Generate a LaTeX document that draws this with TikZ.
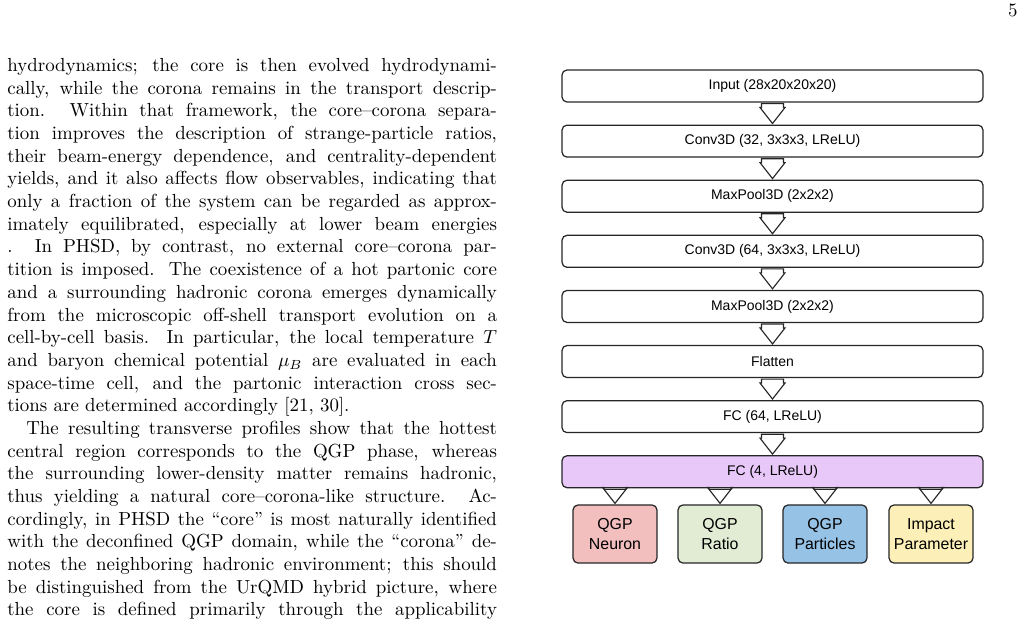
\documentclass[tikz,border=0pt]{standalone}
\usepackage{fontspec}
\newfontfamily\diagfont{Liberation Sans}
\usetikzlibrary{positioning,calc}

\definecolor{neuronfill}{HTML}{F2BEBE}
\definecolor{ratiofill}{HTML}{E2ECD5}
\definecolor{particlefill}{HTML}{96C2E6}
\definecolor{impactfill}{HTML}{FCEFB8}
\definecolor{outfill}{HTML}{E8C8F8}

\tikzset{
  layer/.style={draw=black!85, line width=0.65pt, rounded corners=2.6pt, fill=white,
    minimum width=222.7pt, minimum height=16.9pt, inner sep=0pt,
    font=\diagfont\fontsize{7.4}{8.8}\selectfont},
  target/.style={draw=black!85, line width=0.65pt, rounded corners=2.6pt,
    minimum width=44.4pt, minimum height=30.7pt, inner sep=0pt, align=center,
    font=\diagfont\fontsize{8.4}{10.4}\selectfont},
  hollow/.style={draw=black!85, line width=0.6pt, fill=white, line join=miter},
}

% hollow block arrow from the south of #1 to the north of #2
\newcommand{\flowarrow}[2]{%
  \path (#1.south -| #2.north) coordinate (fa) (#2.north) coordinate (fb);
  \draw[hollow] ($(fa)+(-11,1)$) -- ($(fa)+(11,1)$) -- ($(fb)+(11,-17)$)
    -- ($(fb)+(12.5,-17)$) -- ($(fb)+(0,-1)$) -- ($(fb)+(-12.5,-17)$)
    -- ($(fb)+(-11,-17)$) -- cycle;}

\begin{document}
\begin{tikzpicture}[x=0.529pt,y=-0.529pt]
\useasboundingbox (0,0) rectangle (1029,627);

% page number
\node (pagenum) [anchor=base east, inner sep=0pt, font=\fontsize{10}{12}\selectfont] at (1018,16) {5};

% running text
\node (bodytext) [anchor=north west, inner sep=0pt, text width=259pt, align=justify,
  font=\fontsize{10}{12}\selectfont] at (7,58) {%
hydrodynamics; the core is then evolved hydrodynami-\linebreak
cally, while the corona remains in the transport descrip-\linebreak
tion. Within that framework, the core--corona separa-\linebreak
tion improves the description of strange-particle ratios,\linebreak
their beam-energy dependence, and centrality-dependent\linebreak
yields, and it also affects flow observables, indicating that\linebreak
only a fraction of the system can be regarded as approx-\linebreak
imately equilibrated, especially at lower beam energies\linebreak
[25]. In PHSD, by contrast, no external core--corona par-\linebreak
tition is imposed. The coexistence of a hot partonic core\linebreak
and a surrounding hadronic corona emerges dynamically\linebreak
from the microscopic off-shell transport evolution on a\linebreak
cell-by-cell basis. In particular, the local temperature $T$\linebreak
and baryon chemical potential $\mu_B$ are evaluated in each\linebreak
space-time cell, and the partonic interaction cross sec-\linebreak
tions are determined accordingly [21, 30].\par
\parindent=10pt\parfillskip=0pt
The resulting transverse profiles show that the hottest\linebreak
central region corresponds to the QGP phase, whereas\linebreak
the surrounding lower-density matter remains hadronic,\linebreak
thus yielding a natural core--corona-like structure. Ac-\linebreak
cordingly, in PHSD the ``core'' is most naturally identified\linebreak
with the deconfined QGP domain, while the ``corona'' de-\linebreak
notes the neighboring hadronic environment; this should\linebreak
be distinguished from the UrQMD hybrid picture, where\linebreak
the core is defined primarily through the applicability\par};

% network layers
\node (input) [layer] at (772.5,86) {Input (28x20x20x20)};
\node (conva) [layer, below=11.6pt of input] {Conv3D (32, 3x3x3, LReLU)};
\node (poola) [layer, below=11.6pt of conva] {MaxPool3D (2x2x2)};
\node (convb) [layer, below=11.6pt of poola] {Conv3D (64, 3x3x3, LReLU)};
\node (poolb) [layer, below=11.6pt of convb] {MaxPool3D (2x2x2)};
\node (flat) [layer, below=11.6pt of poolb] {Flatten};
\node (fca) [layer, below=11.6pt of flat] {FC (64, LReLU)};
\node (fcb) [layer, fill=outfill, below=11.6pt of fca] {FC (4, LReLU)};

% outputs
\node (neuron) [target, fill=neuronfill] at (615,534) {QGP\\Neuron};
\node (ratio) [target, fill=ratiofill] at (720,534) {QGP\\Ratio};
\node (particles) [target, fill=particlefill] at (825,534) {QGP\\Particles};
\node (impact) [target, fill=impactfill] at (931,534) {Impact\\Parameter};

\flowarrow{input}{conva}
\flowarrow{conva}{poola}
\flowarrow{poola}{convb}
\flowarrow{convb}{poolb}
\flowarrow{poolb}{flat}
\flowarrow{flat}{fca}
\flowarrow{fca}{fcb}
\flowarrow{fcb}{neuron}
\flowarrow{fcb}{ratio}
\flowarrow{fcb}{particles}
\flowarrow{fcb}{impact}

\end{tikzpicture}
\end{document}
